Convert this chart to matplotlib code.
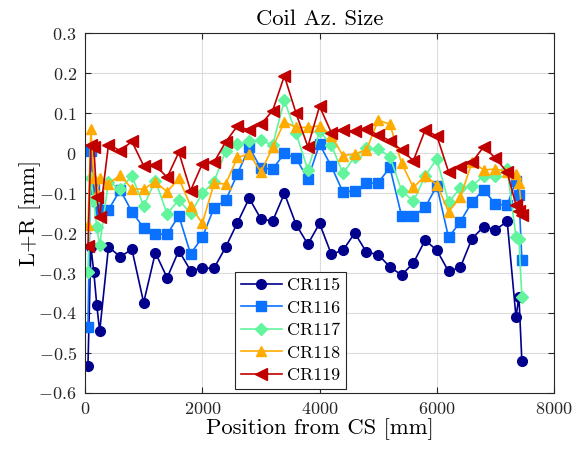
import numpy as np
import matplotlib
matplotlib.use("Agg")
import matplotlib.pyplot as plt

# ---- data ----
position = [50, 100, 150, 200, 250] + list(range(400, 7201, 200)) + [7350, 7400, 7450]

cr115 = [-0.532, -0.234, -0.298, -0.379, -0.446,
         -0.235, -0.259, -0.241, -0.374, -0.249, -0.312, -0.244, -0.294, -0.288, -0.288,
         -0.235, -0.174, -0.113, -0.165, -0.170, -0.101, -0.179, -0.228, -0.176, -0.253,
         -0.243, -0.200, -0.248, -0.254, -0.285, -0.305, -0.275, -0.218, -0.243, -0.296,
         -0.286, -0.214, -0.184, -0.192, -0.171,
         -0.410, -0.359, -0.520]
cr116 = [-0.436, 0.005, -0.090, -0.120, -0.145,
         -0.142, -0.092, -0.147, -0.187, -0.203, -0.203, -0.157, -0.252, -0.211, -0.137,
         -0.118, -0.052, 0.014, -0.038, -0.040, -0.001, -0.013, -0.065, 0.022, -0.033,
         -0.098, -0.094, -0.076, -0.074, -0.036, -0.158, -0.158, -0.136, -0.082, -0.211,
         -0.172, -0.122, -0.092, -0.128, -0.130,
         -0.070, -0.105, -0.267]
cr117 = [-0.298, -0.063, -0.120, -0.186, -0.230,
         -0.072, -0.090, -0.057, -0.132, -0.069, -0.152, -0.117, -0.151, -0.101, -0.072,
         0.006, 0.022, 0.029, 0.032, 0.020, 0.132, 0.049, -0.042, 0.055, 0.020,
         -0.051, -0.009, 0.012, 0.010, -0.009, -0.094, -0.121, -0.057, -0.015, -0.123,
         -0.088, -0.082, -0.057, -0.057, -0.040,
         -0.210, -0.215, -0.360]
cr118 = [-0.180, 0.060, -0.063, -0.100, -0.063,
         -0.077, -0.055, -0.090, -0.090, -0.072, -0.097, -0.063, -0.132, -0.176, -0.076,
         -0.077, -0.011, -0.002, -0.047, 0.014, 0.078, 0.064, 0.064, 0.068, 0.043,
         -0.007, -0.002, 0.008, 0.082, 0.072, -0.026, -0.086, -0.057, -0.079, -0.147,
         -0.111, -0.023, -0.042, -0.040, -0.047,
         -0.052, -0.075, -0.145]
cr119 = [-0.233, 0.020, 0.015, -0.110, -0.160,
         0.021, 0.006, 0.029, -0.032, -0.030, -0.061, 0.002, -0.094, -0.027, -0.023,
         0.028, 0.068, 0.057, 0.072, 0.106, 0.193, 0.099, 0.016, 0.117, 0.051,
         0.057, 0.054, 0.060, 0.045, 0.031, 0.007, -0.019, 0.057, 0.043, -0.047,
         -0.034, -0.023, 0.016, -0.013, -0.048,
         -0.130, -0.145, -0.155]

series_names = ["CR115", "CR116", "CR117", "CR118", "CR119"]
xticks = [0, 2000, 4000, 6000, 8000]
xtick_labels = ["0", "2000", "4000", "6000", "8000"]
yticks = [0.3, 0.2, 0.1, 0.0, -0.1, -0.2, -0.3, -0.4, -0.5, -0.6]
ytick_labels = ["0.3", "0.2", "0.1", "0", "-0.1", "-0.2", "-0.3", "-0.4", "-0.5", "-0.6"]

# ---- style ----
plt.rcParams["font.family"] = "serif"
plt.rcParams["font.serif"] = ["cmr10"]
plt.rcParams["mathtext.fontset"] = "cm"
plt.rcParams["axes.unicode_minus"] = False

colors = ["#00008C", "#0A72FF", "#62F59E", "#FFAB00", "#C00000"]
markers = ["o", "s", "D", "^", "<"]
msizes = [7, 6.5, 6, 7.5, 8]

fig = plt.figure(figsize=(5.76, 4.53), dpi=100)
ax = fig.add_axes([0.1476, 0.1325, 0.8144, 0.7945])

for name, ys, c, m, ms in zip(series_names, [cr115, cr116, cr117, cr118, cr119], colors, markers, msizes):
    ax.plot(position, ys, color=c, marker=m, markersize=ms, markerfacecolor=c,
            markeredgecolor=c, linewidth=1.2, label=name)

ax.set_xlim(0, 8000)
ax.set_ylim(-0.6, 0.3)
ax.set_xticks(xticks)
ax.set_xticklabels(["$" + s + "$" for s in xtick_labels], fontsize=13)
ax.set_yticks(yticks)
ax.set_yticklabels(["$" + s + "$" for s in ytick_labels], fontsize=13)

ax.grid(True, color="#dcdcdc", linewidth=0.8)
ax.set_axisbelow(True)
for sp in ax.spines.values():
    sp.set_color("#262626")
    sp.set_linewidth(0.8)
ax.tick_params(direction="in", top=True, right=True, length=4, width=0.8, color="#262626",
               labelcolor="#262626", pad=6)

ax.set_title("Coil Az. Size", fontsize=16.3, color="#000000", pad=6)
ax.set_xlabel("Position from CS [mm]", fontsize=16.3, labelpad=1)
ax.set_ylabel("L+R [mm]", fontsize=16.3, labelpad=-2)

leg = ax.legend(loc="lower left", bbox_to_anchor=(0.32, 0.012), fontsize=13, frameon=True,
                fancybox=False, edgecolor="#262626", framealpha=1, borderpad=0.3,
                handlelength=2.3, handletextpad=0.3, labelspacing=0.38, borderaxespad=0)
leg.get_frame().set_linewidth(0.8)

fig.savefig("out.png", dpi=100)
